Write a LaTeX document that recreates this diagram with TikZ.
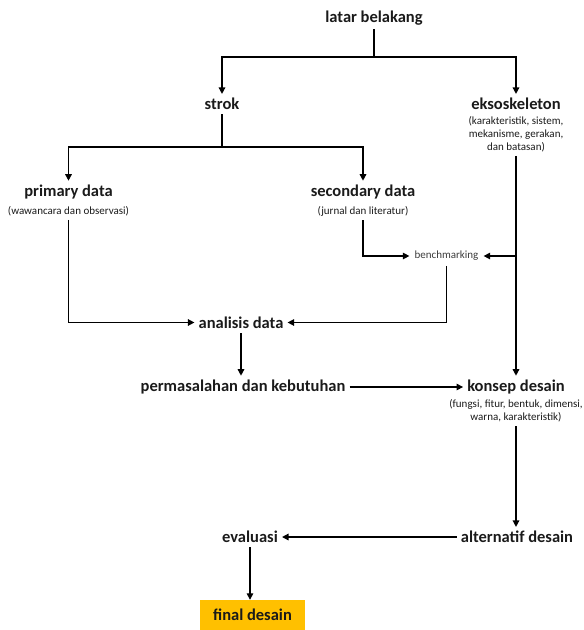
\documentclass[tikz,border=0pt]{standalone}
\usepackage{fontspec}
\setmainfont{Carlito}
\usetikzlibrary{arrows.meta}
\definecolor{txt}{HTML}{1A1A1A}
\definecolor{gold}{HTML}{FFC000}
\tikzset{
  ttl/.style={font=\fontsize{16.5}{18}\selectfont\bfseries, text=txt, inner sep=4pt},
  sub/.style={font=\fontsize{11}{13}\selectfont, text=txt, align=center, inner sep=4pt},
  small/.style={font=\fontsize{11}{12}\selectfont, text=txt!85, inner sep=5pt},
  ln/.style={line width=1.35pt, black},
  arr/.style={ln, -{Triangle[width=6.5pt,length=6.5pt]}},
}
\begin{document}
\begin{tikzpicture}[x=1pt,y=-1pt]
\useasboundingbox (0,0) rectangle (584,630);
% nodes
\node[ttl] (latar) at (374,18) {latar belakang};
\node[ttl] (strok) at (222,104) {strok};
\node[ttl] (ekso) at (516,104) {eksoskeleton};
\node[sub] (ekssub) at (516,134) {(karakteristik, sistem,\\mekanisme, gerakan,\\dan batasan)};
\node[ttl] (prim) at (68.5,192) {primary data};
\node[sub] (primsub) at (68.5,211) {(wawancara dan observasi)};
\node[ttl] (sec) at (363,192) {secondary data};
\node[sub] (secsub) at (363,211) {(jurnal dan literatur)};
\node[small] (bench) at (446.5,256) {benchmarking};
\node[ttl] (anal) at (241,323) {analisis data};
\node[ttl] (perm) at (243,387) {permasalahan dan kebutuhan};
\node[ttl] (konsep) at (516,387) {konsep desain};
\node[sub] (konsub) at (516,411) {(fungsi, fitur, bentuk, dimensi,\\warna, karakteristik)};
\node[ttl] (alt) at (517,537) {alternatif desain};
\node[ttl] (eval) at (250,537) {evaluasi};
\node[ttl, fill=gold, minimum width=105pt, minimum height=30pt] (final) at (252.5,615) {final desain};
% junctions
\coordinate (j1) at (374,57);
\coordinate (j2) at (222,147);
\coordinate (j3) at (516,256);
\coordinate (j4) at (363,256);
\coordinate (j5) at (446.5,322.5);
\coordinate (j6) at (68.5,322.5);
% connectors
\draw[ln] (latar.south) -- (j1);
\draw[arr] (j1) -| (strok.north);
\draw[arr] (j1) -| (ekso.north);
\draw[ln] (strok.south) -- (j2);
\draw[arr] (j2) -| (prim.north);
\draw[arr] (j2) -| (sec.north);
\draw[arr] (ekssub.south) -- (konsep.north);
\draw[arr] (j3) -- (bench.east);
\draw[arr] (secsub.south) -- (j4) -- (bench.west);
\draw[arr] (bench.south) -- (j5) -- (j5 -| anal.east);
\draw[arr] (primsub.south) -- (j6) -- (j6 -| anal.west);
\draw[arr] (anal.south) -- (perm.north -| anal.south);
\draw[arr] (perm.east) -- (konsep.west);
\draw[arr] (konsub.south) -- (alt.north -| konsub.south);
\draw[arr] (alt.west) -- (eval.east);
\draw[arr] (eval.south) -- (eval.south |- final.north);
\end{tikzpicture}
\end{document}
